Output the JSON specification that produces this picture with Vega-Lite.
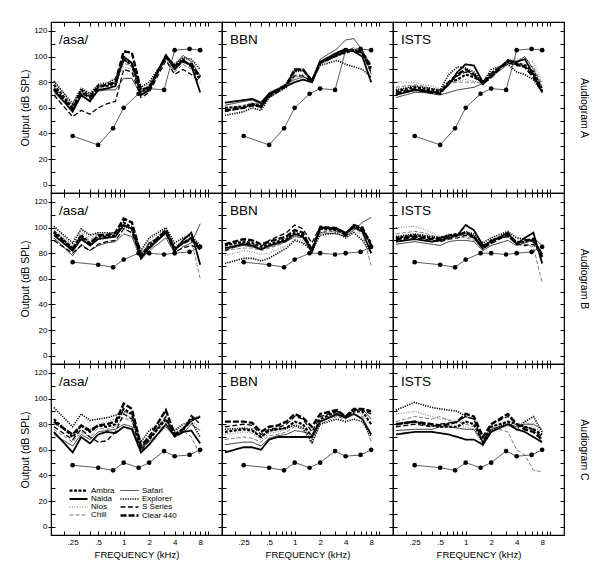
{
"$schema": "https://vega.github.io/schema/vega-lite/v6.json",
"padding": {"left": 20, "top": 20, "right": 5, "bottom": 5},
"background": "white",
"datasets": {
"H": [
{"p":"aA","f":0.15,"Am":78,"Na":74,"Ni":80,"Ch":76,"Sa":72,"Ex":81,"SS":70,"Cl":75},
{"p":"aA","f":0.25,"Am":60,"Na":57,"Ni":64,"Ch":62,"Sa":58,"Ex":63,"SS":53,"Cl":59},
{"p":"aA","f":0.315,"Am":74,"Na":70,"Ni":76,"Ch":72,"Sa":69,"Ex":75,"SS":58,"Cl":72},
{"p":"aA","f":0.4,"Am":69,"Na":65,"Ni":72,"Ch":70,"Sa":66,"Ex":71,"SS":55,"Cl":68},
{"p":"aA","f":0.5,"Am":77,"Na":74,"Ni":79,"Ch":76,"Sa":73,"Ex":78,"SS":60,"Cl":76},
{"p":"aA","f":0.63,"Am":77,"Na":75,"Ni":80,"Ch":78,"Sa":74,"Ex":79,"SS":63,"Cl":78},
{"p":"aA","f":0.8,"Am":79,"Na":77,"Ni":82,"Ch":80,"Sa":74,"Ex":83,"SS":65,"Cl":80},
{"p":"aA","f":1,"Am":98,"Na":100,"Ni":92,"Ch":95,"Sa":83,"Ex":97,"SS":90,"Cl":104},
{"p":"aA","f":1.25,"Am":93,"Na":95,"Ni":90,"Ch":92,"Sa":83,"Ex":95,"SS":88,"Cl":103},
{"p":"aA","f":1.6,"Am":72,"Na":70,"Ni":74,"Ch":73,"Sa":70,"Ex":76,"SS":68,"Cl":74},
{"p":"aA","f":2,"Am":76,"Na":74,"Ni":78,"Ch":77,"Sa":73,"Ex":80,"SS":72,"Cl":76},
{"p":"aA","f":3.15,"Am":100,"Na":101,"Ni":99,"Ch":98,"Sa":102,"Ex":99,"SS":97,"Cl":100},
{"p":"aA","f":4,"Am":92,"Na":90,"Ni":95,"Ch":88,"Sa":93,"Ex":94,"SS":86,"Cl":92},
{"p":"aA","f":5,"Am":98,"Na":97,"Ni":100,"Ch":94,"Sa":101,"Ex":99,"SS":90,"Cl":96},
{"p":"aA","f":6.3,"Am":92,"Na":93,"Ni":96,"Ch":90,"Sa":96,"Ex":98,"SS":86,"Cl":94},
{"p":"aA","f":8,"Am":82,"Na":72,"Ni":88,"Ch":86,"Sa":85,"Ex":90,"SS":80,"Cl":84},
{"p":"bA","f":0.15,"Am":60,"Na":64,"Ni":58,"Ch":59,"Sa":62,"Ex":54,"SS":57,"Cl":58},
{"p":"bA","f":0.25,"Am":61,"Na":66,"Ni":60,"Ch":62,"Sa":65,"Ex":57,"SS":60,"Cl":60},
{"p":"bA","f":0.315,"Am":63,"Na":67,"Ni":62,"Ch":64,"Sa":66,"Ex":60,"SS":63,"Cl":62},
{"p":"bA","f":0.4,"Am":62,"Na":64,"Ni":60,"Ch":62,"Sa":63,"Ex":58,"SS":60,"Cl":61},
{"p":"bA","f":0.5,"Am":70,"Na":71,"Ni":68,"Ch":70,"Sa":72,"Ex":68,"SS":70,"Cl":69},
{"p":"bA","f":0.63,"Am":74,"Na":74,"Ni":72,"Ch":73,"Sa":75,"Ex":72,"SS":74,"Cl":73},
{"p":"bA","f":0.8,"Am":78,"Na":77,"Ni":76,"Ch":77,"Sa":79,"Ex":76,"SS":78,"Cl":78},
{"p":"bA","f":1,"Am":89,"Na":80,"Ni":86,"Ch":84,"Sa":82,"Ex":88,"SS":85,"Cl":90},
{"p":"bA","f":1.25,"Am":90,"Na":82,"Ni":86,"Ch":85,"Sa":84,"Ex":89,"SS":85,"Cl":90},
{"p":"bA","f":1.6,"Am":81,"Na":80,"Ni":79,"Ch":80,"Sa":82,"Ex":82,"SS":80,"Cl":81},
{"p":"bA","f":2,"Am":95,"Na":96,"Ni":94,"Ch":95,"Sa":98,"Ex":93,"SS":96,"Cl":95},
{"p":"bA","f":3.15,"Am":101,"Na":103,"Ni":100,"Ch":102,"Sa":106,"Ex":97,"SS":102,"Cl":101},
{"p":"bA","f":4,"Am":103,"Na":106,"Ni":104,"Ch":105,"Sa":113,"Ex":94,"SS":105,"Cl":104},
{"p":"bA","f":5,"Am":105,"Na":104,"Ni":106,"Ch":107,"Sa":114,"Ex":92,"SS":106,"Cl":105},
{"p":"bA","f":6.3,"Am":103,"Na":100,"Ni":104,"Ch":105,"Sa":105,"Ex":90,"SS":102,"Cl":103},
{"p":"bA","f":8,"Am":90,"Na":80,"Ni":92,"Ch":94,"Sa":86,"Ex":84,"SS":88,"Cl":92},
{"p":"iA","f":0.15,"Am":73,"Na":70,"Ni":80,"Ch":76,"Sa":68,"Ex":74,"SS":72,"Cl":71},
{"p":"iA","f":0.25,"Am":76,"Na":74,"Ni":80,"Ch":78,"Sa":72,"Ex":77,"SS":75,"Cl":74},
{"p":"iA","f":0.315,"Am":75,"Na":73,"Ni":78,"Ch":77,"Sa":72,"Ex":76,"SS":74,"Cl":73},
{"p":"iA","f":0.4,"Am":74,"Na":72,"Ni":77,"Ch":75,"Sa":71,"Ex":75,"SS":73,"Cl":72},
{"p":"iA","f":0.5,"Am":73,"Na":72,"Ni":75,"Ch":74,"Sa":70,"Ex":74,"SS":72,"Cl":71},
{"p":"iA","f":0.63,"Am":80,"Na":78,"Ni":80,"Ch":79,"Sa":72,"Ex":86,"SS":79,"Cl":80},
{"p":"iA","f":0.8,"Am":82,"Na":88,"Ni":81,"Ch":80,"Sa":74,"Ex":92,"SS":85,"Cl":86},
{"p":"iA","f":1,"Am":86,"Na":94,"Ni":82,"Ch":80,"Sa":75,"Ex":91,"SS":88,"Cl":90},
{"p":"iA","f":1.25,"Am":84,"Na":93,"Ni":81,"Ch":80,"Sa":76,"Ex":88,"SS":86,"Cl":86},
{"p":"iA","f":1.6,"Am":80,"Na":80,"Ni":79,"Ch":79,"Sa":79,"Ex":80,"SS":78,"Cl":79},
{"p":"iA","f":2,"Am":87,"Na":85,"Ni":88,"Ch":86,"Sa":84,"Ex":90,"SS":87,"Cl":84},
{"p":"iA","f":3.15,"Am":96,"Na":97,"Ni":97,"Ch":95,"Sa":94,"Ex":94,"SS":95,"Cl":97},
{"p":"iA","f":4,"Am":95,"Na":96,"Ni":99,"Ch":94,"Sa":96,"Ex":88,"SS":93,"Cl":94},
{"p":"iA","f":5,"Am":93,"Na":98,"Ni":97,"Ch":94,"Sa":100,"Ex":86,"SS":92,"Cl":92},
{"p":"iA","f":6.3,"Am":88,"Na":86,"Ni":96,"Ch":92,"Sa":90,"Ex":82,"SS":86,"Cl":84},
{"p":"iA","f":8,"Am":74,"Na":72,"Ni":80,"Ch":78,"Sa":76,"Ex":72,"SS":74,"Cl":73},
{"p":"aB","f":0.15,"Am":97,"Na":94,"Ni":100,"Ch":98,"Sa":92,"Ex":101,"SS":90,"Cl":96},
{"p":"aB","f":0.25,"Am":84,"Na":82,"Ni":86,"Ch":85,"Sa":78,"Ex":88,"SS":80,"Cl":83},
{"p":"aB","f":0.315,"Am":94,"Na":91,"Ni":98,"Ch":96,"Sa":87,"Ex":99,"SS":86,"Cl":93},
{"p":"aB","f":0.4,"Am":88,"Na":86,"Ni":92,"Ch":90,"Sa":82,"Ex":94,"SS":82,"Cl":87},
{"p":"aB","f":0.5,"Am":93,"Na":91,"Ni":96,"Ch":95,"Sa":86,"Ex":96,"SS":87,"Cl":94},
{"p":"aB","f":0.63,"Am":93,"Na":92,"Ni":95,"Ch":94,"Sa":88,"Ex":96,"SS":89,"Cl":94},
{"p":"aB","f":0.8,"Am":94,"Na":93,"Ni":96,"Ch":95,"Sa":89,"Ex":96,"SS":90,"Cl":96},
{"p":"aB","f":1,"Am":104,"Na":102,"Ni":100,"Ch":102,"Sa":95,"Ex":101,"SS":99,"Cl":107},
{"p":"aB","f":1.25,"Am":100,"Na":99,"Ni":96,"Ch":98,"Sa":93,"Ex":99,"SS":96,"Cl":104},
{"p":"aB","f":1.6,"Am":78,"Na":76,"Ni":80,"Ch":79,"Sa":75,"Ex":82,"SS":77,"Cl":79},
{"p":"aB","f":2,"Am":86,"Na":84,"Ni":90,"Ch":88,"Sa":82,"Ex":92,"SS":88,"Cl":84},
{"p":"aB","f":3.15,"Am":98,"Na":96,"Ni":99,"Ch":97,"Sa":92,"Ex":100,"SS":95,"Cl":98},
{"p":"aB","f":4,"Am":84,"Na":82,"Ni":86,"Ch":85,"Sa":80,"Ex":88,"SS":81,"Cl":83},
{"p":"aB","f":5,"Am":88,"Na":90,"Ni":89,"Ch":87,"Sa":85,"Ex":92,"SS":84,"Cl":88},
{"p":"aB","f":6.3,"Am":92,"Na":96,"Ni":92,"Ch":90,"Sa":88,"Ex":94,"SS":86,"Cl":91},
{"p":"aB","f":8,"Am":84,"Na":71,"Ni":86,"Ch":60,"Sa":103,"Ex":86,"SS":84,"Cl":83},
{"p":"bB","f":0.15,"Am":86,"Na":84,"Ni":78,"Ch":82,"Sa":83,"Ex":72,"SS":82,"Cl":87},
{"p":"bB","f":0.25,"Am":89,"Na":87,"Ni":82,"Ch":84,"Sa":86,"Ex":76,"SS":88,"Cl":91},
{"p":"bB","f":0.315,"Am":88,"Na":86,"Ni":81,"Ch":84,"Sa":85,"Ex":76,"SS":87,"Cl":90},
{"p":"bB","f":0.4,"Am":85,"Na":83,"Ni":79,"Ch":82,"Sa":83,"Ex":74,"SS":85,"Cl":87},
{"p":"bB","f":0.5,"Am":87,"Na":86,"Ni":80,"Ch":84,"Sa":85,"Ex":76,"SS":90,"Cl":89},
{"p":"bB","f":0.63,"Am":89,"Na":88,"Ni":83,"Ch":86,"Sa":87,"Ex":80,"SS":93,"Cl":91},
{"p":"bB","f":0.8,"Am":91,"Na":90,"Ni":86,"Ch":89,"Sa":89,"Ex":84,"SS":96,"Cl":93},
{"p":"bB","f":1,"Am":96,"Na":95,"Ni":91,"Ch":94,"Sa":93,"Ex":90,"SS":102,"Cl":98},
{"p":"bB","f":1.25,"Am":94,"Na":93,"Ni":90,"Ch":92,"Sa":92,"Ex":88,"SS":99,"Cl":96},
{"p":"bB","f":1.6,"Am":83,"Na":81,"Ni":82,"Ch":83,"Sa":84,"Ex":82,"SS":88,"Cl":82},
{"p":"bB","f":2,"Am":99,"Na":100,"Ni":96,"Ch":97,"Sa":96,"Ex":94,"SS":101,"Cl":100},
{"p":"bB","f":3.15,"Am":98,"Na":99,"Ni":97,"Ch":97,"Sa":95,"Ex":96,"SS":100,"Cl":99},
{"p":"bB","f":4,"Am":95,"Na":96,"Ni":94,"Ch":95,"Sa":93,"Ex":92,"SS":96,"Cl":94},
{"p":"bB","f":5,"Am":101,"Na":100,"Ni":97,"Ch":99,"Sa":98,"Ex":96,"SS":102,"Cl":102},
{"p":"bB","f":6.3,"Am":98,"Na":97,"Ni":95,"Ch":96,"Sa":104,"Ex":90,"SS":99,"Cl":100},
{"p":"bB","f":8,"Am":88,"Na":80,"Ni":84,"Ch":70,"Sa":108,"Ex":80,"SS":86,"Cl":86},
{"p":"iB","f":0.15,"Am":92,"Na":89,"Ni":100,"Ch":95,"Sa":87,"Ex":93,"SS":90,"Cl":91},
{"p":"iB","f":0.25,"Am":94,"Na":91,"Ni":101,"Ch":97,"Sa":89,"Ex":95,"SS":92,"Cl":93},
{"p":"iB","f":0.315,"Am":93,"Na":90,"Ni":99,"Ch":96,"Sa":88,"Ex":94,"SS":91,"Cl":92},
{"p":"iB","f":0.4,"Am":92,"Na":89,"Ni":96,"Ch":94,"Sa":87,"Ex":93,"SS":90,"Cl":91},
{"p":"iB","f":0.5,"Am":92,"Na":90,"Ni":93,"Ch":92,"Sa":86,"Ex":92,"SS":89,"Cl":91},
{"p":"iB","f":0.63,"Am":94,"Na":92,"Ni":95,"Ch":93,"Sa":89,"Ex":94,"SS":91,"Cl":93},
{"p":"iB","f":0.8,"Am":95,"Na":94,"Ni":95,"Ch":93,"Sa":90,"Ex":94,"SS":92,"Cl":94},
{"p":"iB","f":1,"Am":96,"Na":102,"Ni":93,"Ch":92,"Sa":90,"Ex":97,"SS":94,"Cl":96},
{"p":"iB","f":1.25,"Am":93,"Na":98,"Ni":91,"Ch":90,"Sa":89,"Ex":95,"SS":92,"Cl":93},
{"p":"iB","f":1.6,"Am":84,"Na":86,"Ni":83,"Ch":84,"Sa":82,"Ex":88,"SS":83,"Cl":84},
{"p":"iB","f":2,"Am":90,"Na":89,"Ni":91,"Ch":89,"Sa":86,"Ex":92,"SS":90,"Cl":88},
{"p":"iB","f":3.15,"Am":94,"Na":96,"Ni":95,"Ch":94,"Sa":90,"Ex":97,"SS":93,"Cl":95},
{"p":"iB","f":4,"Am":88,"Na":87,"Ni":90,"Ch":89,"Sa":86,"Ex":92,"SS":87,"Cl":88},
{"p":"iB","f":5,"Am":89,"Na":92,"Ni":91,"Ch":87,"Sa":88,"Ex":91,"SS":86,"Cl":90},
{"p":"iB","f":6.3,"Am":90,"Na":96,"Ni":88,"Ch":85,"Sa":92,"Ex":89,"SS":87,"Cl":91},
{"p":"iB","f":8,"Am":79,"Na":72,"Ni":82,"Ch":57,"Sa":86,"Ex":80,"SS":78,"Cl":77},
{"p":"aC","f":0.15,"Am":84,"Na":74,"Ni":80,"Ch":76,"Sa":72,"Ex":93,"SS":78,"Cl":82},
{"p":"aC","f":0.25,"Am":70,"Na":58,"Ni":72,"Ch":66,"Sa":63,"Ex":78,"SS":68,"Cl":72},
{"p":"aC","f":0.315,"Am":79,"Na":70,"Ni":80,"Ch":74,"Sa":72,"Ex":88,"SS":76,"Cl":79},
{"p":"aC","f":0.4,"Am":74,"Na":65,"Ni":76,"Ch":70,"Sa":68,"Ex":83,"SS":70,"Cl":75},
{"p":"aC","f":0.5,"Am":79,"Na":72,"Ni":80,"Ch":77,"Sa":74,"Ex":84,"SS":66,"Cl":79},
{"p":"aC","f":0.63,"Am":78,"Na":74,"Ni":82,"Ch":76,"Sa":75,"Ex":85,"SS":67,"Cl":80},
{"p":"aC","f":0.8,"Am":80,"Na":73,"Ni":84,"Ch":78,"Sa":76,"Ex":87,"SS":74,"Cl":82},
{"p":"aC","f":1,"Am":92,"Na":78,"Ni":88,"Ch":85,"Sa":80,"Ex":90,"SS":88,"Cl":96},
{"p":"aC","f":1.25,"Am":88,"Na":76,"Ni":85,"Ch":82,"Sa":78,"Ex":88,"SS":84,"Cl":92},
{"p":"aC","f":1.6,"Am":62,"Na":58,"Ni":64,"Ch":60,"Sa":61,"Ex":66,"SS":59,"Cl":63},
{"p":"aC","f":2,"Am":68,"Na":64,"Ni":72,"Ch":70,"Sa":66,"Ex":75,"SS":68,"Cl":70},
{"p":"aC","f":3.15,"Am":84,"Na":80,"Ni":82,"Ch":80,"Sa":78,"Ex":83,"SS":86,"Cl":91},
{"p":"aC","f":4,"Am":72,"Na":71,"Ni":74,"Ch":73,"Sa":70,"Ex":75,"SS":70,"Cl":72},
{"p":"aC","f":5,"Am":76,"Na":74,"Ni":78,"Ch":75,"Sa":73,"Ex":80,"SS":74,"Cl":76},
{"p":"aC","f":6.3,"Am":85,"Na":75,"Ni":82,"Ch":70,"Sa":80,"Ex":82,"SS":87,"Cl":83},
{"p":"aC","f":8,"Am":85,"Na":65,"Ni":78,"Ch":56,"Sa":75,"Ex":70,"SS":80,"Cl":86},
{"p":"bC","f":0.15,"Am":74,"Na":58,"Ni":72,"Ch":68,"Sa":64,"Ex":76,"SS":78,"Cl":82},
{"p":"bC","f":0.25,"Am":76,"Na":62,"Ni":74,"Ch":70,"Sa":66,"Ex":77,"SS":80,"Cl":82},
{"p":"bC","f":0.315,"Am":75,"Na":62,"Ni":73,"Ch":69,"Sa":66,"Ex":76,"SS":79,"Cl":81},
{"p":"bC","f":0.4,"Am":70,"Na":60,"Ni":68,"Ch":66,"Sa":63,"Ex":70,"SS":72,"Cl":74},
{"p":"bC","f":0.5,"Am":75,"Na":68,"Ni":73,"Ch":71,"Sa":69,"Ex":75,"SS":76,"Cl":78},
{"p":"bC","f":0.63,"Am":76,"Na":70,"Ni":74,"Ch":72,"Sa":71,"Ex":76,"SS":77,"Cl":79},
{"p":"bC","f":0.8,"Am":77,"Na":70,"Ni":76,"Ch":74,"Sa":72,"Ex":77,"SS":80,"Cl":82},
{"p":"bC","f":1,"Am":82,"Na":70,"Ni":80,"Ch":78,"Sa":75,"Ex":79,"SS":86,"Cl":88},
{"p":"bC","f":1.25,"Am":80,"Na":70,"Ni":78,"Ch":76,"Sa":74,"Ex":77,"SS":84,"Cl":85},
{"p":"bC","f":1.6,"Am":70,"Na":70,"Ni":68,"Ch":64,"Sa":72,"Ex":66,"SS":74,"Cl":78},
{"p":"bC","f":2,"Am":84,"Na":82,"Ni":83,"Ch":80,"Sa":82,"Ex":80,"SS":86,"Cl":88},
{"p":"bC","f":3.15,"Am":90,"Na":88,"Ni":89,"Ch":86,"Sa":87,"Ex":84,"SS":90,"Cl":91},
{"p":"bC","f":4,"Am":86,"Na":85,"Ni":86,"Ch":84,"Sa":85,"Ex":82,"SS":86,"Cl":86},
{"p":"bC","f":5,"Am":90,"Na":88,"Ni":90,"Ch":88,"Sa":91,"Ex":84,"SS":91,"Cl":92},
{"p":"bC","f":6.3,"Am":90,"Na":84,"Ni":88,"Ch":86,"Sa":92,"Ex":82,"SS":91,"Cl":92},
{"p":"bC","f":8,"Am":80,"Na":72,"Ni":70,"Ch":66,"Sa":84,"Ex":70,"SS":88,"Cl":90},
{"p":"iC","f":0.15,"Am":80,"Na":72,"Ni":88,"Ch":82,"Sa":75,"Ex":91,"SS":78,"Cl":80},
{"p":"iC","f":0.25,"Am":82,"Na":74,"Ni":90,"Ch":86,"Sa":76,"Ex":97,"SS":80,"Cl":82},
{"p":"iC","f":0.315,"Am":80,"Na":74,"Ni":88,"Ch":85,"Sa":76,"Ex":95,"SS":79,"Cl":81},
{"p":"iC","f":0.4,"Am":79,"Na":74,"Ni":86,"Ch":84,"Sa":76,"Ex":93,"SS":78,"Cl":80},
{"p":"iC","f":0.5,"Am":78,"Na":73,"Ni":84,"Ch":86,"Sa":78,"Ex":92,"SS":80,"Cl":79},
{"p":"iC","f":0.63,"Am":78,"Na":72,"Ni":84,"Ch":83,"Sa":78,"Ex":91,"SS":81,"Cl":80},
{"p":"iC","f":0.8,"Am":78,"Na":70,"Ni":80,"Ch":82,"Sa":77,"Ex":90,"SS":82,"Cl":82},
{"p":"iC","f":1,"Am":82,"Na":68,"Ni":78,"Ch":80,"Sa":76,"Ex":86,"SS":86,"Cl":88},
{"p":"iC","f":1.25,"Am":80,"Na":68,"Ni":76,"Ch":78,"Sa":76,"Ex":84,"SS":84,"Cl":86},
{"p":"iC","f":1.6,"Am":66,"Na":64,"Ni":62,"Ch":68,"Sa":66,"Ex":65,"SS":65,"Cl":70},
{"p":"iC","f":2,"Am":78,"Na":74,"Ni":76,"Ch":78,"Sa":76,"Ex":75,"SS":80,"Cl":80},
{"p":"iC","f":3.15,"Am":82,"Na":80,"Ni":78,"Ch":74,"Sa":80,"Ex":82,"SS":86,"Cl":88},
{"p":"iC","f":4,"Am":80,"Na":76,"Ni":80,"Ch":60,"Sa":78,"Ex":76,"SS":80,"Cl":80},
{"p":"iC","f":5,"Am":78,"Na":74,"Ni":82,"Ch":56,"Sa":80,"Ex":82,"SS":78,"Cl":76},
{"p":"iC","f":6.3,"Am":76,"Na":70,"Ni":78,"Ch":44,"Sa":80,"Ex":86,"SS":76,"Cl":74},
{"p":"iC","f":8,"Am":72,"Na":66,"Ni":74,"Ch":43,"Sa":76,"Ex":74,"SS":70,"Cl":68}
],
"G": [
{"a":"A","f":0.25,"v":38},{"a":"A","f":0.5,"v":31},{"a":"A","f":0.75,"v":44},{"a":"A","f":1,"v":60},{"a":"A","f":1.5,"v":71},{"a":"A","f":2,"v":75},{"a":"A","f":3,"v":74},{"a":"A","f":4,"v":105},{"a":"A","f":6,"v":106},{"a":"A","f":8,"v":105},
{"a":"B","f":0.25,"v":73},{"a":"B","f":0.5,"v":71},{"a":"B","f":0.75,"v":69},{"a":"B","f":1,"v":75},{"a":"B","f":1.5,"v":80},{"a":"B","f":2,"v":80},{"a":"B","f":3,"v":79},{"a":"B","f":4,"v":80},{"a":"B","f":6,"v":81},{"a":"B","f":8,"v":85},
{"a":"C","f":0.25,"v":48},{"a":"C","f":0.5,"v":46},{"a":"C","f":0.75,"v":44},{"a":"C","f":1,"v":50},{"a":"C","f":1.5,"v":46},{"a":"C","f":2,"v":50},{"a":"C","f":3,"v":59},{"a":"C","f":4,"v":55},{"a":"C","f":6,"v":56},{"a":"C","f":8,"v":60}
]
},
"columns": 3,
"spacing": 0,
"bounds": "flush",
"resolve": {
"scale": {"strokeDash": "independent", "strokeWidth": "independent", "stroke": "independent"},
"legend": {"strokeDash": "independent", "strokeWidth": "independent", "stroke": "independent"}
},
"concat": [
{"width":171,"height":171,"resolve":{"axis":{"x":"independent","y":"independent"}},"layer":[
{"data":{"name":"H"},"transform":[{"filter":"datum.p=='aA'"},{"fold":["Am","Na","Ni","Ch","Sa","Ex","SS","Cl"],"as":["aid","v"]}],"mark":{"type":"line","strokeCap":"butt"},
"encoding":{"x":{"field":"f","type":"quantitative","scale":{"type":"log","domain":[0.1387,14.48],"nice":false},"axis":{"orient":"bottom","values":[0.2,0.3,0.4,0.5,0.6,0.7,0.8,0.9,1,2,3,4,5,6,7,8,9,10],"labels":false,"title":null,"tickSize":-4}},
"y":{"field":"v","type":"quantitative","scale":{"domain":[-6.5,127],"nice":false,"zero":false},"axis":{"orient":"left","values":[0,10,20,30,40,50,60,70,80,90,100,110,120],"labels":false,"title":null,"tickSize":-4}},
"strokeDash":{"field":"aid","type":"nominal","scale":{"domain":["Am","Na","Ni","Ch","Sa","Ex","SS","Cl"],"range":[[3,1.5],[1,0],[1,1.5],[4,2],[1,0],[1.2,1.2],[5,2.5],[6,2]]},"legend":null},
"strokeWidth":{"field":"aid","type":"nominal","scale":{"type":"ordinal","domain":["Am","Na","Ni","Ch","Sa","Ex","SS","Cl"],"range":[2.2,1.8,0.8,0.7,0.8,1.6,1.3,2.4]},"legend":null},
"stroke":{"field":"aid","type":"nominal","scale":{"domain":["Am","Na","Ni","Ch","Sa","Ex","SS","Cl"],"range":["#000","#000","#555","#444","#000","#000","#000","#000"]},"legend":null}}},
{"data":{"name":"G"},"transform":[{"filter":"datum.a=='A'"}],"mark":{"type":"line","stroke":"#333","strokeWidth":0.8,"point":{"filled":true,"fill":"#000","size":22}},
"encoding":{"x":{"field":"f","type":"quantitative","scale":{"type":"log","domain":[0.1387,14.48],"nice":false},"axis":{"orient":"top","values":[0.2,0.3,0.4,0.5,0.6,0.7,0.8,0.9,1,2,3,4,5,6,7,8,9,10],"labels":false,"title":null,"tickSize":-4}},
"y":{"field":"v","type":"quantitative","scale":{"domain":[-6.5,127],"nice":false,"zero":false},"axis":{"orient":"right","values":[0,10,20,30,40,50,60,70,80,90,100,110,120],"labels":false,"title":null,"tickSize":-4}}}},
{"data":{"values":[{}]},"mark":{"type":"text","align":"left","baseline":"alphabetic","fontSize":13.5,"font":"Liberation Sans"},
"encoding":{"x":{"datum":0.172,"type":"quantitative","scale":{"type":"log","domain":[0.1387,14.48],"nice":false},"axis":null},
"y":{"datum":110,"type":"quantitative","scale":{"domain":[-6.5,127],"nice":false,"zero":false},"axis":{"orient":"left","values":[0,20,40,60,80,100,120],"tickSize":3,"labelPadding":1,"title":"Output (dB SPL)","titlePadding":3}},
"text":{"value":"/asa/"}}}]},
{"width":171,"height":171,"resolve":{"axis":{"x":"independent","y":"independent"}},"layer":[
{"data":{"name":"H"},"transform":[{"filter":"datum.p=='bA'"},{"fold":["Am","Na","Ni","Ch","Sa","Ex","SS","Cl"],"as":["aid","v"]}],"mark":{"type":"line","strokeCap":"butt"},
"encoding":{"x":{"field":"f","type":"quantitative","scale":{"type":"log","domain":[0.1387,14.48],"nice":false},"axis":{"orient":"bottom","values":[0.2,0.3,0.4,0.5,0.6,0.7,0.8,0.9,1,2,3,4,5,6,7,8,9,10],"labels":false,"title":null,"tickSize":-4}},
"y":{"field":"v","type":"quantitative","scale":{"domain":[-6.5,127],"nice":false,"zero":false},"axis":{"orient":"left","values":[0,10,20,30,40,50,60,70,80,90,100,110,120],"labels":false,"title":null,"tickSize":-4}},
"strokeDash":{"field":"aid","type":"nominal","scale":{"domain":["Am","Na","Ni","Ch","Sa","Ex","SS","Cl"],"range":[[3,1.5],[1,0],[1,1.5],[4,2],[1,0],[1.2,1.2],[5,2.5],[6,2]]},"legend":null},
"strokeWidth":{"field":"aid","type":"nominal","scale":{"type":"ordinal","domain":["Am","Na","Ni","Ch","Sa","Ex","SS","Cl"],"range":[2.2,1.8,0.8,0.7,0.8,1.6,1.3,2.4]},"legend":null},
"stroke":{"field":"aid","type":"nominal","scale":{"domain":["Am","Na","Ni","Ch","Sa","Ex","SS","Cl"],"range":["#000","#000","#555","#444","#000","#000","#000","#000"]},"legend":null}}},
{"data":{"name":"G"},"transform":[{"filter":"datum.a=='A'"}],"mark":{"type":"line","stroke":"#333","strokeWidth":0.8,"point":{"filled":true,"fill":"#000","size":22}},
"encoding":{"x":{"field":"f","type":"quantitative","scale":{"type":"log","domain":[0.1387,14.48],"nice":false},"axis":{"orient":"top","values":[0.2,0.3,0.4,0.5,0.6,0.7,0.8,0.9,1,2,3,4,5,6,7,8,9,10],"labels":false,"title":null,"tickSize":-4}},
"y":{"field":"v","type":"quantitative","scale":{"domain":[-6.5,127],"nice":false,"zero":false},"axis":{"orient":"right","values":[0,10,20,30,40,50,60,70,80,90,100,110,120],"labels":false,"title":null,"tickSize":-4}}}},
{"data":{"values":[{}]},"mark":{"type":"text","align":"left","baseline":"alphabetic","fontSize":13.5,"font":"Liberation Sans"},
"encoding":{"x":{"datum":0.172,"type":"quantitative","scale":{"type":"log","domain":[0.1387,14.48],"nice":false},"axis":null},
"y":{"datum":110,"type":"quantitative","scale":{"domain":[-6.5,127],"nice":false,"zero":false},"axis":null},
"text":{"value":"BBN"}}}]},
{"width":171,"height":171,"resolve":{"axis":{"x":"independent","y":"independent"}},"layer":[
{"data":{"name":"H"},"transform":[{"filter":"datum.p=='iA'"},{"fold":["Am","Na","Ni","Ch","Sa","Ex","SS","Cl"],"as":["aid","v"]}],"mark":{"type":"line","strokeCap":"butt"},
"encoding":{"x":{"field":"f","type":"quantitative","scale":{"type":"log","domain":[0.1387,14.48],"nice":false},"axis":{"orient":"bottom","values":[0.2,0.3,0.4,0.5,0.6,0.7,0.8,0.9,1,2,3,4,5,6,7,8,9,10],"labels":false,"title":null,"tickSize":-4}},
"y":{"field":"v","type":"quantitative","scale":{"domain":[-6.5,127],"nice":false,"zero":false},"axis":{"orient":"left","values":[0,10,20,30,40,50,60,70,80,90,100,110,120],"labels":false,"title":null,"tickSize":-4}},
"strokeDash":{"field":"aid","type":"nominal","scale":{"domain":["Am","Na","Ni","Ch","Sa","Ex","SS","Cl"],"range":[[3,1.5],[1,0],[1,1.5],[4,2],[1,0],[1.2,1.2],[5,2.5],[6,2]]},"legend":null},
"strokeWidth":{"field":"aid","type":"nominal","scale":{"type":"ordinal","domain":["Am","Na","Ni","Ch","Sa","Ex","SS","Cl"],"range":[2.2,1.8,0.8,0.7,0.8,1.6,1.3,2.4]},"legend":null},
"stroke":{"field":"aid","type":"nominal","scale":{"domain":["Am","Na","Ni","Ch","Sa","Ex","SS","Cl"],"range":["#000","#000","#555","#444","#000","#000","#000","#000"]},"legend":null}}},
{"data":{"name":"G"},"transform":[{"filter":"datum.a=='A'"}],"mark":{"type":"line","stroke":"#333","strokeWidth":0.8,"point":{"filled":true,"fill":"#000","size":22}},
"encoding":{"x":{"field":"f","type":"quantitative","scale":{"type":"log","domain":[0.1387,14.48],"nice":false},"axis":{"orient":"top","values":[0.2,0.3,0.4,0.5,0.6,0.7,0.8,0.9,1,2,3,4,5,6,7,8,9,10],"labels":false,"title":null,"tickSize":-4}},
"y":{"field":"v","type":"quantitative","scale":{"domain":[-6.5,127],"nice":false,"zero":false},"axis":{"orient":"right","values":[0,10,20,30,40,50,60,70,80,90,100,110,120],"labels":false,"title":"Audiogram A","titlePadding":14,"tickSize":-4}}}},
{"data":{"values":[{}]},"mark":{"type":"text","align":"left","baseline":"alphabetic","fontSize":13.5,"font":"Liberation Sans"},
"encoding":{"x":{"datum":0.172,"type":"quantitative","scale":{"type":"log","domain":[0.1387,14.48],"nice":false},"axis":null},
"y":{"datum":110,"type":"quantitative","scale":{"domain":[-6.5,127],"nice":false,"zero":false},"axis":null},
"text":{"value":"ISTS"}}}]},
{"width":171,"height":171,"resolve":{"axis":{"x":"independent","y":"independent"}},"layer":[
{"data":{"name":"H"},"transform":[{"filter":"datum.p=='aB'"},{"fold":["Am","Na","Ni","Ch","Sa","Ex","SS","Cl"],"as":["aid","v"]}],"mark":{"type":"line","strokeCap":"butt"},
"encoding":{"x":{"field":"f","type":"quantitative","scale":{"type":"log","domain":[0.1387,14.48],"nice":false},"axis":{"orient":"bottom","values":[0.2,0.3,0.4,0.5,0.6,0.7,0.8,0.9,1,2,3,4,5,6,7,8,9,10],"labels":false,"title":null,"tickSize":-4}},
"y":{"field":"v","type":"quantitative","scale":{"domain":[-6.5,127],"nice":false,"zero":false},"axis":{"orient":"left","values":[0,10,20,30,40,50,60,70,80,90,100,110,120],"labels":false,"title":null,"tickSize":-4}},
"strokeDash":{"field":"aid","type":"nominal","scale":{"domain":["Am","Na","Ni","Ch","Sa","Ex","SS","Cl"],"range":[[3,1.5],[1,0],[1,1.5],[4,2],[1,0],[1.2,1.2],[5,2.5],[6,2]]},"legend":null},
"strokeWidth":{"field":"aid","type":"nominal","scale":{"type":"ordinal","domain":["Am","Na","Ni","Ch","Sa","Ex","SS","Cl"],"range":[2.2,1.8,0.8,0.7,0.8,1.6,1.3,2.4]},"legend":null},
"stroke":{"field":"aid","type":"nominal","scale":{"domain":["Am","Na","Ni","Ch","Sa","Ex","SS","Cl"],"range":["#000","#000","#555","#444","#000","#000","#000","#000"]},"legend":null}}},
{"data":{"name":"G"},"transform":[{"filter":"datum.a=='B'"}],"mark":{"type":"line","stroke":"#333","strokeWidth":0.8,"point":{"filled":true,"fill":"#000","size":22}},
"encoding":{"x":{"field":"f","type":"quantitative","scale":{"type":"log","domain":[0.1387,14.48],"nice":false},"axis":{"orient":"top","values":[0.2,0.3,0.4,0.5,0.6,0.7,0.8,0.9,1,2,3,4,5,6,7,8,9,10],"labels":false,"title":null,"tickSize":-4}},
"y":{"field":"v","type":"quantitative","scale":{"domain":[-6.5,127],"nice":false,"zero":false},"axis":{"orient":"right","values":[0,10,20,30,40,50,60,70,80,90,100,110,120],"labels":false,"title":null,"tickSize":-4}}}},
{"data":{"values":[{}]},"mark":{"type":"text","align":"left","baseline":"alphabetic","fontSize":13.5,"font":"Liberation Sans"},
"encoding":{"x":{"datum":0.172,"type":"quantitative","scale":{"type":"log","domain":[0.1387,14.48],"nice":false},"axis":null},
"y":{"datum":110,"type":"quantitative","scale":{"domain":[-6.5,127],"nice":false,"zero":false},"axis":{"orient":"left","values":[0,20,40,60,80,100,120],"tickSize":3,"labelPadding":1,"title":"Output (dB SPL)","titlePadding":3}},
"text":{"value":"/asa/"}}}]},
{"width":171,"height":171,"resolve":{"axis":{"x":"independent","y":"independent"}},"layer":[
{"data":{"name":"H"},"transform":[{"filter":"datum.p=='bB'"},{"fold":["Am","Na","Ni","Ch","Sa","Ex","SS","Cl"],"as":["aid","v"]}],"mark":{"type":"line","strokeCap":"butt"},
"encoding":{"x":{"field":"f","type":"quantitative","scale":{"type":"log","domain":[0.1387,14.48],"nice":false},"axis":{"orient":"bottom","values":[0.2,0.3,0.4,0.5,0.6,0.7,0.8,0.9,1,2,3,4,5,6,7,8,9,10],"labels":false,"title":null,"tickSize":-4}},
"y":{"field":"v","type":"quantitative","scale":{"domain":[-6.5,127],"nice":false,"zero":false},"axis":{"orient":"left","values":[0,10,20,30,40,50,60,70,80,90,100,110,120],"labels":false,"title":null,"tickSize":-4}},
"strokeDash":{"field":"aid","type":"nominal","scale":{"domain":["Am","Na","Ni","Ch","Sa","Ex","SS","Cl"],"range":[[3,1.5],[1,0],[1,1.5],[4,2],[1,0],[1.2,1.2],[5,2.5],[6,2]]},"legend":null},
"strokeWidth":{"field":"aid","type":"nominal","scale":{"type":"ordinal","domain":["Am","Na","Ni","Ch","Sa","Ex","SS","Cl"],"range":[2.2,1.8,0.8,0.7,0.8,1.6,1.3,2.4]},"legend":null},
"stroke":{"field":"aid","type":"nominal","scale":{"domain":["Am","Na","Ni","Ch","Sa","Ex","SS","Cl"],"range":["#000","#000","#555","#444","#000","#000","#000","#000"]},"legend":null}}},
{"data":{"name":"G"},"transform":[{"filter":"datum.a=='B'"}],"mark":{"type":"line","stroke":"#333","strokeWidth":0.8,"point":{"filled":true,"fill":"#000","size":22}},
"encoding":{"x":{"field":"f","type":"quantitative","scale":{"type":"log","domain":[0.1387,14.48],"nice":false},"axis":{"orient":"top","values":[0.2,0.3,0.4,0.5,0.6,0.7,0.8,0.9,1,2,3,4,5,6,7,8,9,10],"labels":false,"title":null,"tickSize":-4}},
"y":{"field":"v","type":"quantitative","scale":{"domain":[-6.5,127],"nice":false,"zero":false},"axis":{"orient":"right","values":[0,10,20,30,40,50,60,70,80,90,100,110,120],"labels":false,"title":null,"tickSize":-4}}}},
{"data":{"values":[{}]},"mark":{"type":"text","align":"left","baseline":"alphabetic","fontSize":13.5,"font":"Liberation Sans"},
"encoding":{"x":{"datum":0.172,"type":"quantitative","scale":{"type":"log","domain":[0.1387,14.48],"nice":false},"axis":null},
"y":{"datum":110,"type":"quantitative","scale":{"domain":[-6.5,127],"nice":false,"zero":false},"axis":null},
"text":{"value":"BBN"}}}]},
{"width":171,"height":171,"resolve":{"axis":{"x":"independent","y":"independent"}},"layer":[
{"data":{"name":"H"},"transform":[{"filter":"datum.p=='iB'"},{"fold":["Am","Na","Ni","Ch","Sa","Ex","SS","Cl"],"as":["aid","v"]}],"mark":{"type":"line","strokeCap":"butt"},
"encoding":{"x":{"field":"f","type":"quantitative","scale":{"type":"log","domain":[0.1387,14.48],"nice":false},"axis":{"orient":"bottom","values":[0.2,0.3,0.4,0.5,0.6,0.7,0.8,0.9,1,2,3,4,5,6,7,8,9,10],"labels":false,"title":null,"tickSize":-4}},
"y":{"field":"v","type":"quantitative","scale":{"domain":[-6.5,127],"nice":false,"zero":false},"axis":{"orient":"left","values":[0,10,20,30,40,50,60,70,80,90,100,110,120],"labels":false,"title":null,"tickSize":-4}},
"strokeDash":{"field":"aid","type":"nominal","scale":{"domain":["Am","Na","Ni","Ch","Sa","Ex","SS","Cl"],"range":[[3,1.5],[1,0],[1,1.5],[4,2],[1,0],[1.2,1.2],[5,2.5],[6,2]]},"legend":null},
"strokeWidth":{"field":"aid","type":"nominal","scale":{"type":"ordinal","domain":["Am","Na","Ni","Ch","Sa","Ex","SS","Cl"],"range":[2.2,1.8,0.8,0.7,0.8,1.6,1.3,2.4]},"legend":null},
"stroke":{"field":"aid","type":"nominal","scale":{"domain":["Am","Na","Ni","Ch","Sa","Ex","SS","Cl"],"range":["#000","#000","#555","#444","#000","#000","#000","#000"]},"legend":null}}},
{"data":{"name":"G"},"transform":[{"filter":"datum.a=='B'"}],"mark":{"type":"line","stroke":"#333","strokeWidth":0.8,"point":{"filled":true,"fill":"#000","size":22}},
"encoding":{"x":{"field":"f","type":"quantitative","scale":{"type":"log","domain":[0.1387,14.48],"nice":false},"axis":{"orient":"top","values":[0.2,0.3,0.4,0.5,0.6,0.7,0.8,0.9,1,2,3,4,5,6,7,8,9,10],"labels":false,"title":null,"tickSize":-4}},
"y":{"field":"v","type":"quantitative","scale":{"domain":[-6.5,127],"nice":false,"zero":false},"axis":{"orient":"right","values":[0,10,20,30,40,50,60,70,80,90,100,110,120],"labels":false,"title":"Audiogram B","titlePadding":14,"tickSize":-4}}}},
{"data":{"values":[{}]},"mark":{"type":"text","align":"left","baseline":"alphabetic","fontSize":13.5,"font":"Liberation Sans"},
"encoding":{"x":{"datum":0.172,"type":"quantitative","scale":{"type":"log","domain":[0.1387,14.48],"nice":false},"axis":null},
"y":{"datum":110,"type":"quantitative","scale":{"domain":[-6.5,127],"nice":false,"zero":false},"axis":null},
"text":{"value":"ISTS"}}}]},
{"width":171,"height":171,"resolve":{"axis":{"x":"independent","y":"independent"}},"layer":[
{"data":{"name":"H"},"transform":[{"filter":"datum.p=='aC'"},{"fold":["Am","Na","Ni","Ch","Sa","Ex","SS","Cl"],"as":["aid","v"]}],"mark":{"type":"line","strokeCap":"butt"},
"encoding":{"x":{"field":"f","type":"quantitative","scale":{"type":"log","domain":[0.1387,14.48],"nice":false},"axis":{"orient":"bottom","values":[0.2,0.3,0.4,0.5,0.6,0.7,0.8,0.9,1,2,3,4,5,6,7,8,9,10],"labels":false,"title":null,"tickSize":-4}},
"y":{"field":"v","type":"quantitative","scale":{"domain":[-6.5,127],"nice":false,"zero":false},"axis":{"orient":"left","values":[0,10,20,30,40,50,60,70,80,90,100,110,120],"labels":false,"title":null,"tickSize":-4}},
"strokeDash":{"field":"aid","type":"nominal","scale":{"domain":["Am","Na","Ni","Ch","Sa","Ex","SS","Cl"],"range":[[3,1.5],[1,0],[1,1.5],[4,2],[1,0],[1.2,1.2],[5,2.5],[6,2]]},"legend":{"orient":"bottom-left","offset":14,"columns":2,"columnPadding":0,"rowPadding":-1,"padding":0,"title":null,"symbolType":"M-3,0H3","symbolSize":36,"symbolOffset":9,"labelOffset":8,"labelFontSize":8,"labelFont":"Liberation Sans","labelColor":"#000","labelExpr":"datum.label=='Am'?'Ambra':datum.label=='Sa'?'Safari':datum.label=='Na'?'Naida':datum.label=='Ex'?'Explorer':datum.label=='Ni'?'Nios':datum.label=='SS'?'S Series':datum.label=='Ch'?'Chili':'Clear 440'"}},
"strokeWidth":{"field":"aid","type":"nominal","scale":{"type":"ordinal","domain":["Am","Na","Ni","Ch","Sa","Ex","SS","Cl"],"range":[2.2,1.8,0.8,0.7,0.8,1.6,1.3,2.4]},"legend":{"orient":"bottom-left","offset":14,"columns":2,"columnPadding":0,"rowPadding":-1,"padding":0,"title":null,"symbolType":"M-3,0H3","symbolSize":36,"symbolOffset":9,"labelOffset":8,"labelFontSize":8,"labelFont":"Liberation Sans","labelColor":"#000","labelExpr":"datum.label=='Am'?'Ambra':datum.label=='Sa'?'Safari':datum.label=='Na'?'Naida':datum.label=='Ex'?'Explorer':datum.label=='Ni'?'Nios':datum.label=='SS'?'S Series':datum.label=='Ch'?'Chili':'Clear 440'"}},
"stroke":{"field":"aid","type":"nominal","scale":{"domain":["Am","Na","Ni","Ch","Sa","Ex","SS","Cl"],"range":["#000","#000","#555","#444","#000","#000","#000","#000"]},"legend":{"orient":"bottom-left","offset":14,"columns":2,"columnPadding":0,"rowPadding":-1,"padding":0,"title":null,"symbolType":"M-3,0H3","symbolSize":36,"symbolOffset":9,"labelOffset":8,"labelFontSize":8,"labelFont":"Liberation Sans","labelColor":"#000","labelExpr":"datum.label=='Am'?'Ambra':datum.label=='Sa'?'Safari':datum.label=='Na'?'Naida':datum.label=='Ex'?'Explorer':datum.label=='Ni'?'Nios':datum.label=='SS'?'S Series':datum.label=='Ch'?'Chili':'Clear 440'"}}}},
{"data":{"name":"G"},"transform":[{"filter":"datum.a=='C'"}],"mark":{"type":"line","stroke":"#333","strokeWidth":0.8,"point":{"filled":true,"fill":"#000","size":22}},
"encoding":{"x":{"field":"f","type":"quantitative","scale":{"type":"log","domain":[0.1387,14.48],"nice":false},"axis":{"orient":"top","values":[0.2,0.3,0.4,0.5,0.6,0.7,0.8,0.9,1,2,3,4,5,6,7,8,9,10],"labels":false,"title":null,"tickSize":-4}},
"y":{"field":"v","type":"quantitative","scale":{"domain":[-6.5,127],"nice":false,"zero":false},"axis":{"orient":"right","values":[0,10,20,30,40,50,60,70,80,90,100,110,120],"labels":false,"title":null,"tickSize":-4}}}},
{"data":{"values":[{}]},"mark":{"type":"text","align":"left","baseline":"alphabetic","fontSize":13.5,"font":"Liberation Sans"},
"encoding":{"x":{"datum":0.172,"type":"quantitative","scale":{"type":"log","domain":[0.1387,14.48],"nice":false},"axis":{"orient":"bottom","values":[0.25,0.5,1,2,4,8],"ticks":false,"labelPadding":3,"labelExpr":"datum.value==0.25?'.25':datum.value==0.5?'.5':''+datum.value","title":"FREQUENCY (kHz)","titlePadding":3}},
"y":{"datum":110,"type":"quantitative","scale":{"domain":[-6.5,127],"nice":false,"zero":false},"axis":{"orient":"left","values":[0,20,40,60,80,100,120],"tickSize":3,"labelPadding":1,"title":"Output (dB SPL)","titlePadding":3}},
"text":{"value":"/asa/"}}}]},
{"width":171,"height":171,"resolve":{"axis":{"x":"independent","y":"independent"}},"layer":[
{"data":{"name":"H"},"transform":[{"filter":"datum.p=='bC'"},{"fold":["Am","Na","Ni","Ch","Sa","Ex","SS","Cl"],"as":["aid","v"]}],"mark":{"type":"line","strokeCap":"butt"},
"encoding":{"x":{"field":"f","type":"quantitative","scale":{"type":"log","domain":[0.1387,14.48],"nice":false},"axis":{"orient":"bottom","values":[0.2,0.3,0.4,0.5,0.6,0.7,0.8,0.9,1,2,3,4,5,6,7,8,9,10],"labels":false,"title":null,"tickSize":-4}},
"y":{"field":"v","type":"quantitative","scale":{"domain":[-6.5,127],"nice":false,"zero":false},"axis":{"orient":"left","values":[0,10,20,30,40,50,60,70,80,90,100,110,120],"labels":false,"title":null,"tickSize":-4}},
"strokeDash":{"field":"aid","type":"nominal","scale":{"domain":["Am","Na","Ni","Ch","Sa","Ex","SS","Cl"],"range":[[3,1.5],[1,0],[1,1.5],[4,2],[1,0],[1.2,1.2],[5,2.5],[6,2]]},"legend":null},
"strokeWidth":{"field":"aid","type":"nominal","scale":{"type":"ordinal","domain":["Am","Na","Ni","Ch","Sa","Ex","SS","Cl"],"range":[2.2,1.8,0.8,0.7,0.8,1.6,1.3,2.4]},"legend":null},
"stroke":{"field":"aid","type":"nominal","scale":{"domain":["Am","Na","Ni","Ch","Sa","Ex","SS","Cl"],"range":["#000","#000","#555","#444","#000","#000","#000","#000"]},"legend":null}}},
{"data":{"name":"G"},"transform":[{"filter":"datum.a=='C'"}],"mark":{"type":"line","stroke":"#333","strokeWidth":0.8,"point":{"filled":true,"fill":"#000","size":22}},
"encoding":{"x":{"field":"f","type":"quantitative","scale":{"type":"log","domain":[0.1387,14.48],"nice":false},"axis":{"orient":"top","values":[0.2,0.3,0.4,0.5,0.6,0.7,0.8,0.9,1,2,3,4,5,6,7,8,9,10],"labels":false,"title":null,"tickSize":-4}},
"y":{"field":"v","type":"quantitative","scale":{"domain":[-6.5,127],"nice":false,"zero":false},"axis":{"orient":"right","values":[0,10,20,30,40,50,60,70,80,90,100,110,120],"labels":false,"title":null,"tickSize":-4}}}},
{"data":{"values":[{}]},"mark":{"type":"text","align":"left","baseline":"alphabetic","fontSize":13.5,"font":"Liberation Sans"},
"encoding":{"x":{"datum":0.172,"type":"quantitative","scale":{"type":"log","domain":[0.1387,14.48],"nice":false},"axis":{"orient":"bottom","values":[0.25,0.5,1,2,4,8],"ticks":false,"labelPadding":3,"labelExpr":"datum.value==0.25?'.25':datum.value==0.5?'.5':''+datum.value","title":"FREQUENCY (kHz)","titlePadding":3}},
"y":{"datum":110,"type":"quantitative","scale":{"domain":[-6.5,127],"nice":false,"zero":false},"axis":null},
"text":{"value":"BBN"}}}]},
{"width":171,"height":171,"resolve":{"axis":{"x":"independent","y":"independent"}},"layer":[
{"data":{"name":"H"},"transform":[{"filter":"datum.p=='iC'"},{"fold":["Am","Na","Ni","Ch","Sa","Ex","SS","Cl"],"as":["aid","v"]}],"mark":{"type":"line","strokeCap":"butt"},
"encoding":{"x":{"field":"f","type":"quantitative","scale":{"type":"log","domain":[0.1387,14.48],"nice":false},"axis":{"orient":"bottom","values":[0.2,0.3,0.4,0.5,0.6,0.7,0.8,0.9,1,2,3,4,5,6,7,8,9,10],"labels":false,"title":null,"tickSize":-4}},
"y":{"field":"v","type":"quantitative","scale":{"domain":[-6.5,127],"nice":false,"zero":false},"axis":{"orient":"left","values":[0,10,20,30,40,50,60,70,80,90,100,110,120],"labels":false,"title":null,"tickSize":-4}},
"strokeDash":{"field":"aid","type":"nominal","scale":{"domain":["Am","Na","Ni","Ch","Sa","Ex","SS","Cl"],"range":[[3,1.5],[1,0],[1,1.5],[4,2],[1,0],[1.2,1.2],[5,2.5],[6,2]]},"legend":null},
"strokeWidth":{"field":"aid","type":"nominal","scale":{"type":"ordinal","domain":["Am","Na","Ni","Ch","Sa","Ex","SS","Cl"],"range":[2.2,1.8,0.8,0.7,0.8,1.6,1.3,2.4]},"legend":null},
"stroke":{"field":"aid","type":"nominal","scale":{"domain":["Am","Na","Ni","Ch","Sa","Ex","SS","Cl"],"range":["#000","#000","#555","#444","#000","#000","#000","#000"]},"legend":null}}},
{"data":{"name":"G"},"transform":[{"filter":"datum.a=='C'"}],"mark":{"type":"line","stroke":"#333","strokeWidth":0.8,"point":{"filled":true,"fill":"#000","size":22}},
"encoding":{"x":{"field":"f","type":"quantitative","scale":{"type":"log","domain":[0.1387,14.48],"nice":false},"axis":{"orient":"top","values":[0.2,0.3,0.4,0.5,0.6,0.7,0.8,0.9,1,2,3,4,5,6,7,8,9,10],"labels":false,"title":null,"tickSize":-4}},
"y":{"field":"v","type":"quantitative","scale":{"domain":[-6.5,127],"nice":false,"zero":false},"axis":{"orient":"right","values":[0,10,20,30,40,50,60,70,80,90,100,110,120],"labels":false,"title":"Audiogram C","titlePadding":14,"tickSize":-4}}}},
{"data":{"values":[{}]},"mark":{"type":"text","align":"left","baseline":"alphabetic","fontSize":13.5,"font":"Liberation Sans"},
"encoding":{"x":{"datum":0.172,"type":"quantitative","scale":{"type":"log","domain":[0.1387,14.48],"nice":false},"axis":{"orient":"bottom","values":[0.25,0.5,1,2,4,8],"ticks":false,"labelPadding":3,"labelExpr":"datum.value==0.25?'.25':datum.value==0.5?'.5':''+datum.value","title":"FREQUENCY (kHz)","titlePadding":3}},
"y":{"datum":110,"type":"quantitative","scale":{"domain":[-6.5,127],"nice":false,"zero":false},"axis":null},
"text":{"value":"ISTS"}}}]}
],
"config": {
"view": {"stroke": "#000", "strokeWidth": 1.2},
"axis": {"domain": false, "grid": false, "tickColor": "#000", "tickWidth": 1, "labelFont": "Liberation Sans", "labelFontSize": 8, "labelColor": "#000", "titleFont": "Liberation Sans", "titleFontSize": 10.5, "titleFontWeight": "normal", "titleColor": "#000", "labelOverlap": false, "labelFlush": false},
"axisX": {"titleFontSize": 9.5}
}
}
